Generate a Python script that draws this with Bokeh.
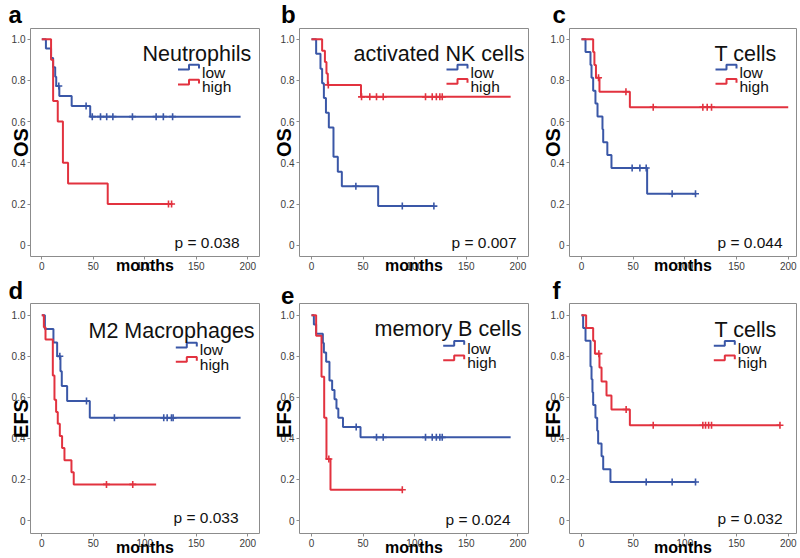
import numpy as np
from bokeh.plotting import figure
from bokeh.layouts import column, row
from bokeh.models import Range1d, FixedTicker, Label
from bokeh.embed import file_html
from bokeh.resources import INLINE

# ---------------- data ----------------
panel_letters = ["a", "b", "c", "d", "e", "f"]
panel_titles = ["Neutrophils", "activated NK cells", "T cells",
                "M2 Macrophages", "memory B cells", "T cells"]
y_titles = ["OS", "OS", "OS", "EFS", "EFS", "EFS"]
p_values = ["p = 0.038", "p = 0.007", "p = 0.044",
            "p = 0.033", "p = 0.024", "p = 0.032"]
x_label = "months"
legend_labels = ["low", "high"]
x_ticks = [0, 50, 100, 150, 200]
y_ticks = [0, 0.2, 0.4, 0.6, 0.8, 1.0]
y_tick_labels = ["0", "0.2", "0.4", "0.6", "0.8", "1.0"]

# panel a - Neutrophils (OS)
a_low_time = [0, 4, 9, 11, 13, 14, 17, 29, 47]
a_low_surv = [1, 0.955, 0.909, 0.864, 0.818, 0.773, 0.724, 0.676, 0.624]
a_low_cens = [16.5, 43, 49, 57, 63, 69, 88, 111, 118, 127]
a_low_end = 193
a_high_time = [0, 9, 11, 15.5, 20.5, 25.5, 64]
a_high_surv = [1, 0.9, 0.7, 0.6, 0.4, 0.3, 0.2]
a_high_cens = [123, 126]
a_high_end = 127

# panel b - activated NK cells (OS)
b_low_time = [0, 4.5, 8.7, 10.3, 12, 14, 16.8, 21.3, 25.5, 29.4, 64.6]
b_low_surv = [1, 0.929, 0.857, 0.786, 0.714, 0.643, 0.571, 0.429, 0.357, 0.286, 0.19]
b_low_cens = [43, 88, 118.6]
b_low_end = 118.6
b_high_time = [0, 10.3, 13, 14.5, 15.8, 48]
b_high_surv = [1, 0.944, 0.889, 0.833, 0.778, 0.72]
b_high_cens = [16.3, 48.5, 56.5, 63, 69.5, 110.5, 117, 121, 124.4, 126.7]
b_high_end = 193

# panel c - T cells (OS)
c_low_time = [0, 3.9, 8.7, 9.7, 11.3, 13.5, 15.5, 20.3, 21, 25, 29, 63.5]
c_low_surv = [1, 0.9375, 0.875, 0.8125, 0.75, 0.6875, 0.625, 0.5625, 0.5, 0.4375, 0.375, 0.25]
c_low_cens = [49, 56.5, 62.6, 87.7, 110.3]
c_low_end = 111
c_high_time = [0, 11.3, 12.5, 14, 17.4, 46.8]
c_high_surv = [1, 0.9375, 0.875, 0.8125, 0.745, 0.67]
c_high_cens = [16.5, 43, 69.4, 117.4, 121.6, 125.8]
c_high_end = 200

# panel d - M2 Macrophages (EFS)
d_low_time = [0, 3, 11.3, 14.9, 18.1, 19.4, 24.6, 46.6]
d_low_surv = [1, 0.933, 0.867, 0.8, 0.727, 0.655, 0.582, 0.5]
d_low_cens = [17.5, 43.4, 70.5, 118.4, 121.7, 125.9, 127.5]
d_low_end = 193
d_high_time = [0, 2, 3.6, 10.7, 12.3, 13.9, 15.5, 17.5, 19.7, 22, 28.8, 31]
d_high_surv = [1, 0.941, 0.882, 0.706, 0.588, 0.529, 0.471, 0.412, 0.353, 0.294, 0.235, 0.176]
d_high_cens = [62.8, 88.3]
d_high_end = 111

# panel e - memory B cells (EFS)
e_low_time = [0, 2.3, 4.5, 11, 12, 14.2, 17.4, 20, 22.3, 24.2, 26, 30.5, 47.5]
e_low_surv = [1, 0.955, 0.909, 0.864, 0.818, 0.773, 0.682, 0.636, 0.591, 0.545, 0.5, 0.455, 0.405]
e_low_cens = [43.3, 63, 69.5, 110.5, 117, 121, 124.4, 126.7]
e_low_end = 193
e_high_time = [0, 4.5, 9.7, 12.3, 14.5, 18.4]
e_high_surv = [1, 0.9, 0.7, 0.5, 0.3, 0.15]
e_high_cens = [16.8, 88]
e_high_end = 88

# panel f - T cells (EFS)
f_low_time = [0, 1.6, 3.9, 8.7, 9.7, 10.6, 11.3, 13.5, 15.2, 16.1, 19.4, 21, 28]
f_low_surv = [1, 0.9375, 0.875, 0.75, 0.6875, 0.625, 0.5625, 0.5, 0.4375, 0.375, 0.3125, 0.25, 0.1875]
f_low_cens = [62.6, 87.7, 110.3]
f_low_end = 111
f_high_time = [0, 4.5, 11.3, 13, 17.4, 19.4, 24.2, 29, 46.8]
f_high_surv = [1, 0.9375, 0.875, 0.8125, 0.745, 0.677, 0.609, 0.541, 0.464]
f_high_cens = [16.8, 43.2, 69.4, 117.4, 120, 123, 125.8, 192]
f_high_end = 192

curves = [
    ((a_low_time, a_low_surv, a_low_cens, a_low_end), (a_high_time, a_high_surv, a_high_cens, a_high_end)),
    ((b_low_time, b_low_surv, b_low_cens, b_low_end), (b_high_time, b_high_surv, b_high_cens, b_high_end)),
    ((c_low_time, c_low_surv, c_low_cens, c_low_end), (c_high_time, c_high_surv, c_high_cens, c_high_end)),
    ((d_low_time, d_low_surv, d_low_cens, d_low_end), (d_high_time, d_high_surv, d_high_cens, d_high_end)),
    ((e_low_time, e_low_surv, e_low_cens, e_low_end), (e_high_time, e_high_surv, e_high_cens, e_high_end)),
    ((f_low_time, f_low_surv, f_low_cens, f_low_end), (f_high_time, f_high_surv, f_high_cens, f_high_end)),
]

# ---------------- style / layout ----------------
FONT = "Liberation Sans"
BLUE = "#3a57a7"
RED = "#e2323f"
FRAME_COL = "#8c8c8c"
TICK_TXT = "#3c3c3c"

# page coordinates (the page is drawn from its top-left corner)
cols = [
    dict(w=263, bl=30, br=4, fl=30, fr=259, xr=(-10.97, 211.36), ys=-23, toff=-22),
    dict(w=269, bl=36, br=4, fl=299, fr=528, xr=(-11.63, 210.3), ys=-17, toff=-18.5),
    dict(w=268, bl=37, br=4, fl=569, fr=796, xr=(-11.6, 208.0), ys=-16, toff=-17),
]
rows = [
    dict(h=276, bt=28, bb=19, ft=28, fb=257, yr=(-0.0546, 1.0517), xs=-16, ts=-2),
    dict(h=282, bt=27, bb=24, ft=303, fb=534, yr=(-0.063, 1.0567), xs=-11, ts=-4),
]
title_pos = [(142, 53.3), (353, 53.3), (714, 53.3), (88, 331), (374, 329), (714, 330)]
legend_pos = [(201.5, 71.7, 86.7), (470, 71.7, 86), (739, 71.7, 86),
              (199.3, 349.7, 364), (466.7, 348, 362.5), (737.3, 348, 362.5)]
pval_pos = [(174, 243.3), (451, 242.7), (717, 242.7), (173, 518), (445, 519.7), (717, 518.7)]


def make_panel(i):
    c = cols[i % 3]
    r = rows[i // 3]
    fl, fr, ft, fb = c["fl"], c["fr"], r["ft"], r["fb"]
    x0, x1 = c["xr"]
    y0, y1 = r["yr"]

    def dx(px):
        return x0 + (px - fl) / (fr - fl) * (x1 - x0)

    def dy(py):
        return y1 - (py - ft) / (fb - ft) * (y1 - y0)

    p = figure(width=c["w"], height=r["h"], x_range=Range1d(x0, x1), y_range=Range1d(y0, y1),
               min_border_left=c["bl"], min_border_right=c["br"],
               min_border_top=r["bt"], min_border_bottom=r["bb"],
               toolbar_location=None, tools="", output_backend="svg")
    p.grid.visible = False
    p.outline_line_color = FRAME_COL
    p.outline_line_width = 1

    # panel letter as the figure title
    p.title.text = panel_letters[i]
    p.title.align = "left"
    p.title.vertical_align = "top"
    p.title.offset = c["toff"]
    p.title.standoff = r["ts"]
    p.title.text_font = FONT
    p.title.text_font_size = "24px"
    p.title.text_font_style = "bold"
    p.title.text_color = "#000000"

    for ax in (p.xaxis[0], p.yaxis[0]):
        ax.axis_line_color = None
        ax.major_tick_line_color = FRAME_COL
        ax.major_tick_in = 0
        ax.major_tick_out = 3
        ax.minor_tick_line_color = None
        ax.major_label_text_font = FONT
        ax.major_label_text_font_size = "10px"
        ax.major_label_text_color = TICK_TXT
        ax.major_label_standoff = 2
        ax.axis_label_text_font = FONT
        ax.axis_label_text_font_style = "bold"
        ax.axis_label_text_color = "#000000"
    p.xaxis.ticker = FixedTicker(ticks=x_ticks)
    p.yaxis.ticker = FixedTicker(ticks=y_ticks)
    p.yaxis.major_label_overrides = {float(t): s for t, s in zip(y_ticks, y_tick_labels)}
    p.yaxis.axis_label = y_titles[i]
    p.yaxis.axis_label_text_font_size = "20px"
    p.yaxis.axis_label_standoff = c["ys"]
    p.xaxis.axis_label = x_label
    p.xaxis.axis_label_text_font_size = "16px"
    p.xaxis.axis_label_standoff = r["xs"]

    for (times, surv, cens, end), colr in zip(curves[i], (BLUE, RED)):
        xs = list(times) + [end]
        ys = list(surv) + [surv[-1]]
        p.step(xs, ys, mode="after", line_width=2, line_color=colr)
        t = np.asarray(times, dtype=float)
        s = np.asarray(surv, dtype=float)
        idx = np.searchsorted(t, np.asarray(cens, dtype=float), side="right") - 1
        p.scatter(cens, s[idx], marker="cross", size=7, line_width=1.6, line_color=colr)

    lx, lb1, lb2 = legend_pos[i]
    for lab, base, colr in zip(legend_labels, (lb1, lb2), (BLUE, RED)):
        ix = [lx - 24, lx - 13, lx - 13, lx - 3, lx - 3]
        iy = [base - 2.5, base - 2.5, base - 7.3, base - 7.3, base - 3.5]
        p.line([dx(v) for v in ix], [dy(v) for v in iy], line_width=2, line_color=colr)
        p.add_layout(Label(x=dx(lx), y=dy(base), text=lab, text_font=FONT,
                           text_font_size="15.5px", text_color="#111111",
                           text_align="left", text_baseline="alphabetic"))

    tx, tb = title_pos[i]
    p.add_layout(Label(x=dx(tx), y=dy(tb), text=panel_titles[i], text_font=FONT,
                       text_font_size="21.5px", text_color="#111111",
                       text_align="left", text_baseline="alphabetic"))
    vx, vb = pval_pos[i]
    p.add_layout(Label(x=dx(vx), y=dy(vb), text=p_values[i], text_font=FONT,
                       text_font_size="15.5px", text_color="#111111",
                       text_align="left", text_baseline="alphabetic"))
    return p


panels = [make_panel(i) for i in range(6)]
layout = column(row(*panels[:3]), row(*panels[3:]))

open("out.html", "w").write(file_html(layout, INLINE))
